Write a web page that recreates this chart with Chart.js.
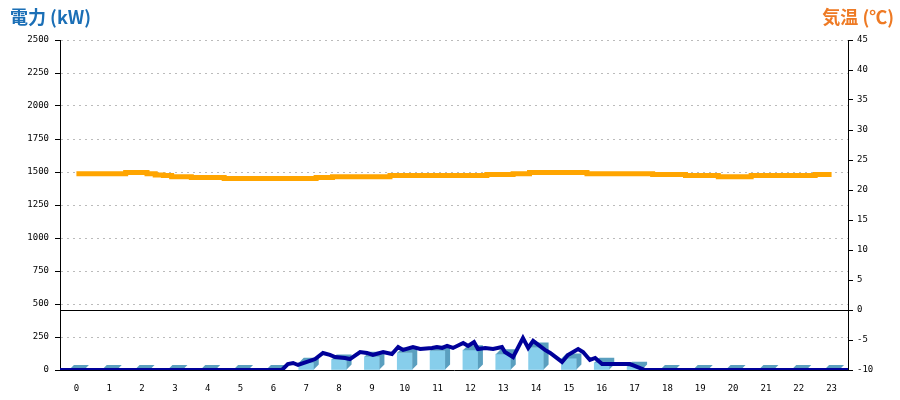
<!DOCTYPE html>
<html>
<head>
<meta charset="utf-8">
<script src="https://cdn.jsdelivr.net/npm/chart.js@4.4.1/dist/chart.umd.min.js"></script>
<style>
  body { margin: 0; background: #fff; }
  #wrap { position: relative; width: 900px; height: 400px; }
  .title { position: absolute; top: 6px; font-family: "Noto Sans CJK JP", sans-serif; font-weight: bold; font-size: 18px; line-height: 20px; }
  #t1 { left: 10px; color: #1b6fb6; }
  #t2 { right: 6px; color: #ee7a24; }
</style>
</head>
<body>
<div id="wrap">
  <canvas id="chart" width="900" height="400"></canvas>
  <div class="title" id="t1">電力 (kW)</div>
  <div class="title" id="t2">気温 (℃)</div>
</div>
<script>
// hourly categories
const hours = ["0","1","2","3","4","5","6","7","8","9","10","11","12","13","14","15","16","17","18","19","20","21","22","23"];
// hourly power (bars), kW
const barPower = [0, 0, 0, 0, 0, 0, 0, 55, 80, 100, 130, 145, 150, 120, 170, 88, 55, 25, 0, 0, 0, 0, 0, 0];

// detailed power line, time in hours / kW
const powerTimes = [0, 6.76, 6.94, 7.10, 7.25, 7.52, 7.77, 8.01, 8.22, 8.38, 8.68, 8.83, 9.14, 9.35, 9.53, 9.84,
  10.11, 10.30, 10.45, 10.75, 10.97, 11.33, 11.48, 11.64, 11.79, 11.97, 12.28, 12.43, 12.61, 12.73, 12.95,
  13.19, 13.46, 13.55, 13.80, 14.10, 14.26, 14.41, 14.77, 14.93, 15.29, 15.47, 15.78, 15.93, 16.14, 16.30,
  16.51, 17.36, 17.67, 17.82, 24];
const powerValues = [0, 0, 45, 53, 38, 61, 83, 129, 114, 98, 91, 83, 136, 129, 114, 136,
  121, 174, 152, 174, 159, 167, 174, 167, 182, 167, 205, 182, 212, 159, 167,
  159, 174, 136, 98, 242, 167, 220, 152, 129, 61, 114, 159, 136, 76, 91,
  45, 45, 15, 0, 0];

// temperature, time in hours / °C
const tempTimes = [0, 1.5, 2.15, 2.4, 2.65, 2.9, 3.5, 4.5, 7.3, 7.8, 9.55, 12.5, 13.3, 13.8, 15.55, 17.55, 18.55, 19.55, 20.55, 22.5, 23];
const tempValues = [22.7, 22.9, 22.7, 22.5, 22.4, 22.2, 22.1, 21.9, 22.1, 22.2, 22.4, 22.6, 22.7, 22.9, 22.7, 22.6, 22.4, 22.2, 22.4, 22.6, 22.6];

const tickFont = { family: "DejaVu Sans Mono", size: 9 };

// side + top faces for the bars
const bar3d = {
  id: "bar3d",
  afterDatasetDraw(chart, args) {
    if (args.index !== 0) return;
    const ctx = chart.ctx;
    const d = 5;
    args.meta.data.forEach(bar => {
      const { x, y, base, width } = bar.getProps(["x", "y", "base", "width"], true);
      const l = x - width / 2, r = x + width / 2;
      ctx.save();
      ctx.fillStyle = "#5a9fbf";
      ctx.beginPath();
      ctx.moveTo(l, y);
      ctx.lineTo(l + d, y - d);
      ctx.lineTo(r + d, y - d);
      ctx.lineTo(r + d, base - d);
      ctx.lineTo(r, base);
      ctx.lineTo(r, y);
      ctx.closePath();
      ctx.fill();
      ctx.restore();
    });
  }
};

const config = {
  type: "bar",
  data: {
    labels: hours,
    datasets: [
      {
        data: barPower,
        backgroundColor: "#87ceeb",
        barThickness: 15,
        grouped: false, // the line datasets otherwise push the bars half a bar left
        xAxisID: "x",
        yAxisID: "y",
        order: 3
      },
      {
        type: "line",
        data: tempTimes.map((t, i) => ({ x: t + 0.5, y: tempValues[i] })), // centred on the hour labels
        borderColor: "#ffa500",
        borderWidth: 5,
        stepped: true,
        pointRadius: 0,
        xAxisID: "xt",
        yAxisID: "y2",
        order: 2
      },
      {
        type: "line",
        data: powerTimes.map((t, i) => ({ x: t, y: powerValues[i] })),
        borderColor: "#000099",
        borderWidth: 4,
        pointRadius: 0,
        tension: 0,
        xAxisID: "xt",
        yAxisID: "y",
        order: 1
      }
    ]
  },
  options: {
    responsive: false,
    animation: false,
    devicePixelRatio: 1,
    layout: { padding: { top: 40, left: 0, right: 0, bottom: 0 } },
    plugins: { legend: { display: false }, tooltip: { enabled: false } },
    scales: {
      x: {
        grid: { display: false },
        border: { color: "#000", width: 1 },
        ticks: { color: "#000", font: tickFont, padding: 5, maxRotation: 0, autoSkip: false },
        afterFit(s) { s.height = 30; }
      },
      // time axis for the lines: kept in the layout but drawn empty
      xt: {
        type: "linear",
        position: "bottom",
        offset: false,
        min: 0,
        max: 24,
        grid: { display: false, offset: false },
        border: { display: false },
        ticks: { display: false },
        afterFit(s) { s.height = 0; }
      },
      y: {
        position: "left",
        min: 0,
        max: 2500,
        ticks: { stepSize: 250, color: "#000", font: tickFont, padding: 6, callback: v => String(v) },
        grid: {
          color: c => (c.tick && c.tick.value === 0 ? "rgba(0,0,0,0)" : "#bbbbbb"),
          tickColor: "#000",
          tickLength: 5,
          tickBorderDash: []
        },
        border: { color: "#000", width: 1, dash: [2, 4] },
        afterFit(s) { s.width = 60; }
      },
      y2: {
        position: "right",
        min: -10,
        max: 45,
        ticks: { stepSize: 5, color: "#000", font: tickFont, padding: 4, callback: v => String(v) },
        grid: {
          color: c => (c.tick && c.tick.value === 0 ? "#000" : "rgba(0,0,0,0)"),
          tickColor: "#000",
          tickLength: 5,
          tickBorderDash: []
        },
        border: { color: "#000", width: 1 },
        afterFit(s) { s.width = 52; }
      }
    }
  },
  plugins: [bar3d]
};

const chart = new Chart(document.getElementById("chart"), config);
</script>
</body>
</html>
